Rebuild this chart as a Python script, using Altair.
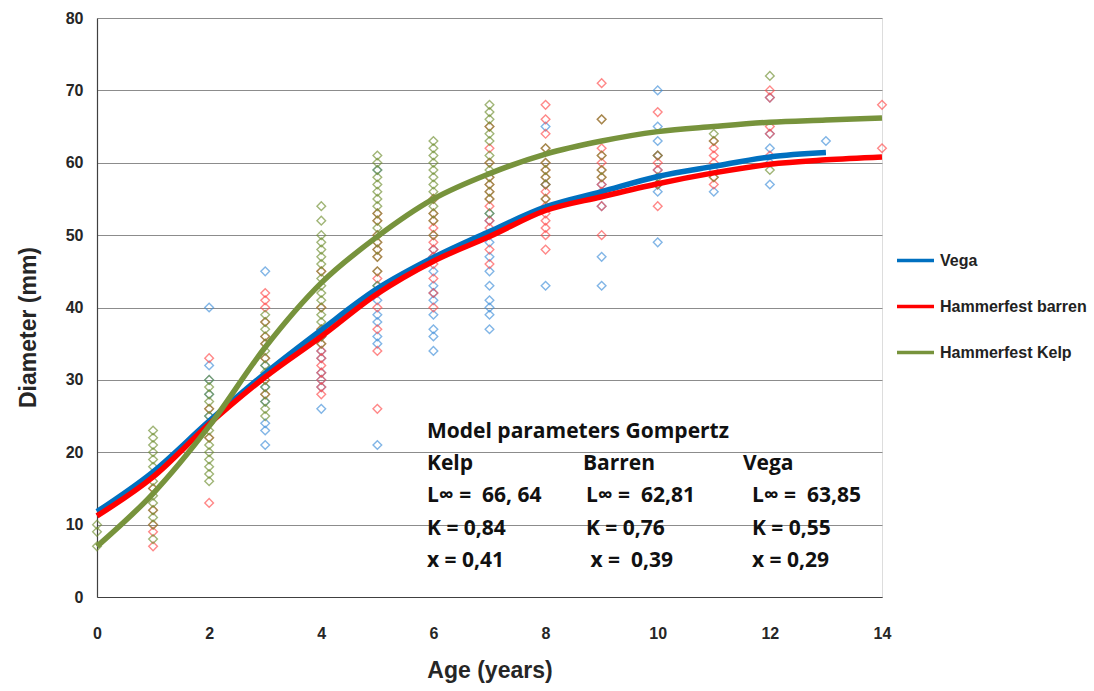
import altair as alt
import pandas as pd

# ---------------- data ----------------
groups = ["Vega", "Hammerfest barren", "Hammerfest Kelp"]
line_colors = ["#0070C0", "#FF0000", "#77933C"]
point_colors = ["#3F8FDA", "#FF4A4A", "#6F8F30"]

curve_age_vega = [0, 1, 2, 3, 4, 5, 6, 7, 8, 9, 10, 11, 12, 13]
curve_vega = [11.8, 17.3, 24.3, 30.9, 36.9, 42.6, 46.9, 50.5, 53.9, 56.0, 58.1, 59.5, 60.8, 61.4]
curve_age_barren = [0, 1, 2, 3, 4, 5, 6, 7, 8, 9, 10, 11, 12, 13, 14]
curve_barren = [11.2, 16.6, 23.9, 30.4, 36.0, 41.9, 46.4, 49.8, 53.4, 55.3, 57.1, 58.6, 59.8, 60.4, 60.8]
curve_age_kelp = [0, 1, 2, 3, 4, 5, 6, 7, 8, 9, 10, 11, 12, 13, 14]
curve_kelp = [7.0, 14.3, 23.6, 34.5, 43.4, 49.8, 55.0, 58.5, 61.2, 63.0, 64.3, 65.0, 65.6, 65.9, 66.2]

kelp_pts = {
    0: [7, 9, 10],
    1: [8, 10, 11, 12, 13, 14, 15, 16, 17, 18, 19, 20, 21, 22, 23],
    2: [16, 17, 18, 19, 20, 21, 22, 23, 24, 25, 26, 27, 28, 29, 30],
    3: [25, 26, 27, 28, 29, 30, 31, 32, 33, 34, 35, 36, 37, 38, 39],
    4: [35, 36, 37, 38, 39, 40, 41, 42, 43, 44, 45, 46, 47, 48, 49, 50, 52, 54],
    5: [43, 45, 47, 48, 49, 50, 51, 52, 53, 54, 55, 56, 57, 58, 59, 60, 61],
    6: [50, 52, 53, 54, 55, 56, 57, 58, 59, 60, 61, 62, 63],
    7: [53, 55, 56, 57, 58, 59, 60, 61, 63, 64, 65, 66, 67, 68],
    8: [55, 57, 58, 59, 60, 62],
    9: [58, 59, 61, 66],
    10: [57, 58, 61],
    11: [58, 63, 64],
    12: [59, 72],
}
barren_pts = {
    1: [7, 9, 10, 12, 15],
    2: [13, 22, 24, 26, 33],
    3: [28, 30, 33, 35, 36, 38, 40, 41, 42],
    4: [28, 29, 30, 31, 32, 33, 34, 35, 36, 37, 40, 45],
    5: [26, 34, 37, 40, 42, 44, 45, 47, 48, 49, 50, 52, 53],
    6: [40, 42, 44, 46, 47, 48, 49, 50, 51, 52, 53, 55],
    7: [46, 48, 50, 51, 52, 54, 55, 56, 57, 58, 60, 62, 65],
    8: [48, 50, 51, 52, 53, 54, 55, 56, 57, 58, 59, 60, 62, 64, 66, 68],
    9: [50, 54, 56, 57, 58, 59, 60, 61, 62, 66, 71],
    10: [54, 57, 59, 60, 61, 67],
    11: [57, 58, 60, 61, 62, 63],
    12: [61, 64, 65, 69, 70],
    14: [62, 68],
}
vega_pts = {
    2: [25, 28, 30, 32, 40],
    3: [21, 23, 24, 27, 29, 32, 45],
    4: [26, 29, 30, 31, 33, 34, 36],
    5: [21, 35, 36, 38, 39, 41, 43, 59],
    6: [34, 36, 37, 39, 41, 42, 43, 45, 47, 48],
    7: [37, 39, 40, 41, 43, 45, 47, 49, 52, 53],
    8: [43, 57, 65],
    9: [43, 47, 54, 57],
    10: [49, 56, 57, 59, 61, 63, 65, 70],
    11: [56, 59],
    12: [57, 60, 62, 64, 69],
    13: [63],
}

NB = "\u00a0"
ann_text = ["Model parameters Gompertz",
            "Kelp", "Barren", "Vega",
            "L\u221e =" + NB + NB + "66, 64", "L\u221e =" + NB + NB + "62,81", "L\u221e =" + NB + NB + "63,85",
            "K = 0,84", "K = 0,76", "K = 0,55",
            "x = 0,41", "x =" + NB + NB + "0,39", "x = 0,29"]
ann_x = [5.885,
         5.885, 8.667, 11.52,
         5.885, 8.72, 11.68,
         5.885, 8.72, 11.68,
         5.885, 8.8, 11.68]
ann_y = [22.8,
         18.4, 18.4, 18.4,
         13.95, 13.95, 13.95,
         9.4, 9.4, 9.4,
         5.0, 5.0, 5.0]

# ---------------- tables ----------------
rows = []
for g, pts in zip(groups, [vega_pts, barren_pts, kelp_pts]):
    for a, vals in pts.items():
        for v in vals:
            rows.append({"group": g, "age": a, "d": v})
pts_df = pd.DataFrame(rows)

lrows = []
for g, ages, vals in zip(groups,
                         [curve_age_vega, curve_age_barren, curve_age_kelp],
                         [curve_vega, curve_barren, curve_kelp]):
    for a, v in zip(ages, vals):
        lrows.append({"group": g, "age": a, "d": v, "order": groups.index(g)})
line_df = pd.DataFrame(lrows)

ann_df = pd.DataFrame({"t": ann_text, "age": ann_x, "d": ann_y})

W, H = 785, 579

xscale = alt.Scale(domain=[0, 14], nice=False, zero=False)
yscale = alt.Scale(domain=[0, 80], nice=False)

xaxis = alt.Axis(values=[0, 2, 4, 6, 8, 10, 12, 14], format="d", title="Age (years)", grid=False,
                 ticks=False, labelPadding=28, labelFontSize=16, labelFontWeight="bold",
                 labelFont="Liberation Sans", labelColor="#262626", labelFlush=False,
                 labelAlign="center",
                 titleFont="Liberation Sans", titleFontSize=23, titleFontWeight="bold",
                 titleColor="#262626", titleY=62, titleBaseline="top",
                 domainColor="#404040", domainWidth=1.2)
yaxis = alt.Axis(values=[0, 10, 20, 30, 40, 50, 60, 70, 80], format="d", title="Diameter (mm)",
                 grid=True, gridColor="#8C8C8C", gridWidth=1.2, labelFlush=False,
                 ticks=False, labelPadding=14, labelFontSize=16, labelFontWeight="bold",
                 labelFont="Liberation Sans", labelColor="#262626",
                 titleFont="Liberation Sans", titleFontSize=23, titleFontWeight="bold",
                 titleColor="#262626", titleX=-69, titleY=309, titleAngle=-90,
                 titleAlign="center", titleBaseline="middle",
                 domainColor="#404040", domainWidth=1.2)

points = alt.Chart(pts_df).mark_point(shape="diamond", filled=False, size=75,
                                      strokeWidth=1.4, opacity=0.65).encode(
    x=alt.X("age:Q", scale=xscale, axis=xaxis),
    y=alt.Y("d:Q", scale=yscale, axis=yaxis),
    color=alt.Color("group:N", scale=alt.Scale(domain=groups, range=point_colors), legend=None),
)

lines = alt.Chart(line_df).mark_line(strokeWidth=5.5, interpolate="monotone").encode(
    x=alt.X("age:Q", scale=xscale),
    y=alt.Y("d:Q", scale=yscale),
    color=alt.Color("group:N", scale=alt.Scale(domain=groups, range=line_colors),
                    legend=alt.Legend(title=None, orient="none", legendX=798, legendY=222,
                                      symbolType="stroke", symbolSize=1369,
                                      symbolStrokeWidth=3.5, rowPadding=17,
                                      labelFont="Liberation Sans", labelFontSize=16,
                                      labelFontWeight="bold", labelColor="#222222",
                                      labelOffset=4, labelLimit=300)),
    detail="group:N",
    order=alt.Order("order:Q"),
)

texts = alt.Chart(ann_df).mark_text(align="left", baseline="middle", font="Open Sans",
                                    fontSize=21, fontWeight="bold", color="#111111").encode(
    x=alt.X("age:Q", scale=xscale),
    y=alt.Y("d:Q", scale=yscale),
    text="t:N",
)

chart = alt.layer(points, lines, texts).resolve_scale(color="independent").properties(
    width=W, height=H,
    autosize=alt.AutoSizeParams(type="none"),
    padding={"left": 97, "top": 18, "right": 212, "bottom": 94},
).configure_view(stroke=None).configure(background="white")

chart.save("out.html", embed_options={"renderer": "svg", "actions": False})
